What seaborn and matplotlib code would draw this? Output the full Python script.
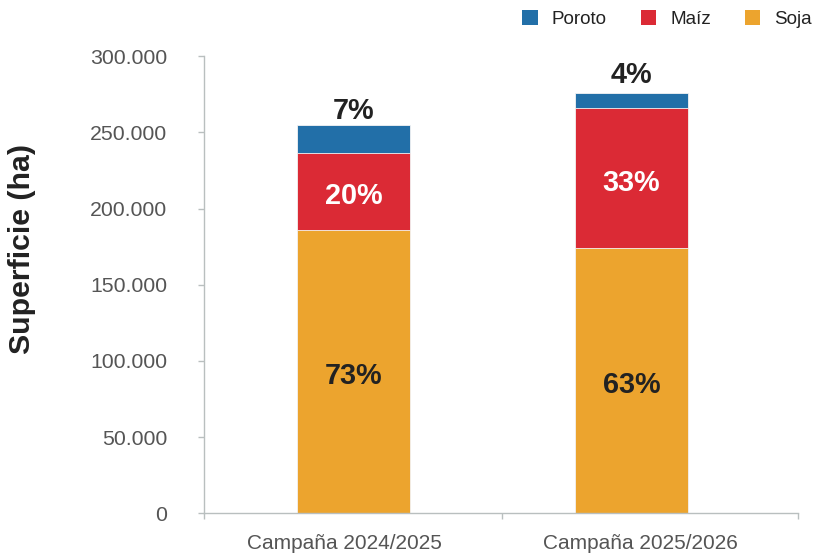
import matplotlib
matplotlib.use("Agg")
import matplotlib.pyplot as plt
import seaborn as sns
import pandas as pd
import numpy as np
from matplotlib.patches import Patch

# ---- data ----
categories = ["Campaña 2024/2025", "Campaña 2025/2026"]
soja = [186000, 174000]
maiz = [50500, 92000]
poroto = [18300, 10000]
series_names = ["Poroto", "Maíz", "Soja"]
yticks = [0, 50000, 100000, 150000, 200000, 250000, 300000]
ytick_labels = ["0", "50.000", "100.000", "150.000", "200.000", "250.000", "300.000"]

colors = {"Soja": "#ECA42E", "Maíz": "#DB2A35", "Poroto": "#226FA8"}

sns.set_theme(style="white")
plt.rcParams["font.family"] = ["Liberation Sans", "DejaVu Sans"]

df = pd.DataFrame({"cat": categories, "Soja": soja, "Maíz": maiz, "Poroto": poroto})
df["c_soja"] = df["Soja"]
df["c_maiz"] = df["Soja"] + df["Maíz"]
df["c_poroto"] = df["c_maiz"] + df["Poroto"]
total = df["c_poroto"]

W, H = 819, 555
fig = plt.figure(figsize=(W / 100, H / 100), dpi=100)
ax = fig.add_axes([204 / W, 1 - 513.3 / H, (798.3 - 204) / W, (513.3 - 56.3) / H])

bw = 0.407
for col, name in [("c_poroto", "Poroto"), ("c_maiz", "Maíz"), ("c_soja", "Soja")]:
    sns.barplot(data=df, x="cat", y=col, color=colors[name], width=bw,
                edgecolor="#f4f4f4", linewidth=0.6, ax=ax, saturation=1)

ax.set_ylim(0, 300000)
ax.set_xlim(-0.537, 1.599)

# y axis
ax.set_yticks(yticks)
ax.set_yticklabels(ytick_labels)
ax.tick_params(axis="y", direction="out", length=6 * 0.72, width=1, color="#B9BFBF",
               pad=22, labelsize=15.3, labelcolor="#555555", left=True)

# x axis: category separators as minor ticks, labels as major ticks
ax.set_xticks([-0.034, 1.03])
ax.set_xticklabels(categories)
ax.set_xticks([-0.537, 0.533, 1.599], minor=True)
ax.tick_params(axis="x", which="major", length=0, pad=15, labelsize=15, labelcolor="#555555")
ax.tick_params(axis="x", which="minor", direction="out", length=6 * 0.72, width=1,
               color="#B9BFBF", bottom=True)

for s in ["top", "right"]:
    ax.spines[s].set_visible(False)
for s in ["left", "bottom"]:
    ax.spines[s].set_color("#B9BFBF")
    ax.spines[s].set_linewidth(1)

ax.set_xlabel("")
ax.set_ylabel("Superficie (ha)", fontsize=21.8, fontweight="bold", color="#222222")
ax.yaxis.label.set_va("center")
ax.yaxis.label.set_ha("center")
ax.yaxis.set_label_coords((22 - 204) / (798.3 - 204), (513.3 - 249) / 457)

# percentage labels
lab_fs = 20.8
for i in range(len(categories)):
    t = total[i]
    ps = round(soja[i] / t * 100)
    pm = round(maiz[i] / t * 100)
    pp = round(poroto[i] / t * 100)
    ax.annotate(f"{ps}%", xy=(i, soja[i] / 2), xytext=(0, -3), textcoords="offset points",
                ha="center", va="center", fontsize=lab_fs, fontweight="bold", color="#222222")
    ax.annotate(f"{pm}%", xy=(i, soja[i] + maiz[i] / 2), xytext=(0, -3.5),
                textcoords="offset points", ha="center", va="center",
                fontsize=lab_fs, fontweight="bold", color="white")
    ax.annotate(f"{pp}%", xy=(i, t), xytext=(0, 0 + 3 * i), textcoords="offset points",
                ha="center", va="bottom", fontsize=lab_fs, fontweight="bold", color="#222222")

handles = [Patch(facecolor=colors[n], edgecolor="none", label=n) for n in series_names]
fig.legend(handles=handles, loc="center left", bbox_to_anchor=(513 / W, 1 - 19 / H),
           ncol=3, frameon=False, fontsize=13.6, handlelength=0.8, handleheight=0.8,
           handletextpad=0.75, columnspacing=1.8, borderpad=0, labelcolor="#222222")

fig.savefig("out.png", dpi=100)
